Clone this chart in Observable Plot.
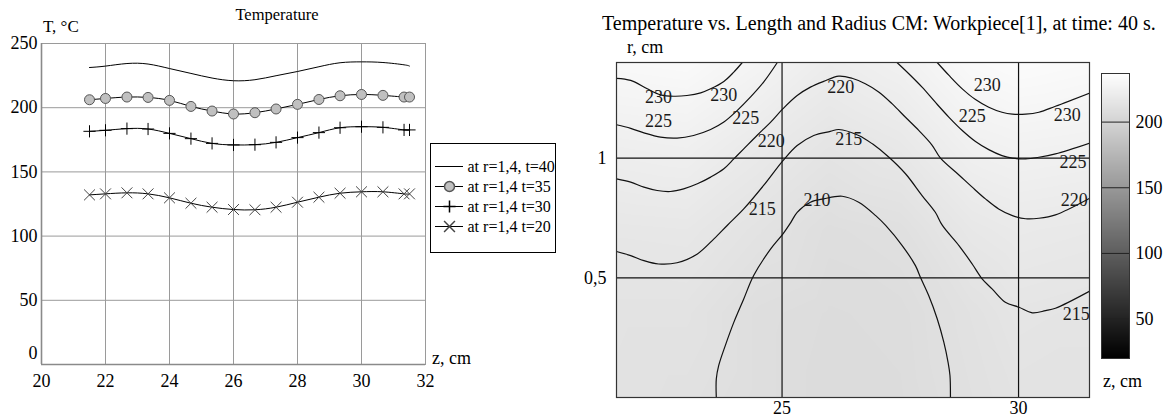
<!DOCTYPE html>
<html><head><meta charset="utf-8">
<script src="https://cdn.jsdelivr.net/npm/d3@7"></script>
<script src="https://cdn.jsdelivr.net/npm/@observablehq/plot@0.6"></script>
<style>
body{margin:0;background:#fff;}
#wrap{position:relative;width:1171px;height:419px;overflow:hidden;font-family:"Liberation Serif","Times New Roman",serif;color:#000;background:#fff;}
.abs{position:absolute;white-space:nowrap;line-height:1;}
.abs svg{display:block;overflow:visible;}
#wrap svg, #wrap svg text, #wrap svg tspan{font-family:"Liberation Serif","Times New Roman",serif !important;}
</style></head><body><div id="wrap"></div>
<script>
// ---------- Left chart data ----------
const zLeft = [21.5, 22, 22.67, 23.33, 24, 24.67, 25.33, 26, 26.67, 27.33, 28, 28.67, 29.33, 30, 30.67, 31.33, 31.5];
const t40 = [231.3, 232.4, 234.4, 234.0, 230.5, 226.7, 223.1, 221.0, 221.8, 224.9, 228.2, 231.9, 235.0, 235.7, 235.2, 233.4, 232.4];
const t35 = [206.2, 207.2, 208.3, 208.0, 205.7, 201.0, 197.4, 195.1, 196.1, 199.0, 202.6, 206.4, 209.3, 210.3, 209.6, 208.3, 208.3];
const t30 = [181.6, 182.4, 183.7, 183.4, 180.0, 175.9, 172.2, 171.0, 171.2, 173.0, 176.7, 180.6, 184.4, 185.2, 184.7, 182.7, 182.7];
const t20 = [132.1, 132.9, 133.7, 132.9, 129.8, 125.6, 122.5, 120.7, 120.5, 122.5, 126.4, 130.3, 133.4, 134.5, 134.5, 132.9, 132.9];
const seriesNames = ["at r=1,4, t=40", "at r=1,4 t=35", "at r=1,4 t=30", "at r=1,4 t=20"];
const xTicksLeft = [20, 22, 24, 26, 28, 30, 32];
const yTicksLeft = [0, 50, 100, 150, 200, 250];

// ---------- Right chart data (contour lines: [z, r]) ----------
const c230L = [[21.5,1.334],[21.80,1.325],[22.15,1.290],[22.43,1.265],[22.71,1.259],[22.99,1.262],[23.28,1.273],[23.49,1.290],[23.77,1.321],[23.98,1.360],[24.16,1.40]];
const c225L = [[21.5,1.140],[21.80,1.125],[22.08,1.106],[22.43,1.088],[22.78,1.084],[23.13,1.095],[23.49,1.120],[23.77,1.151],[24.05,1.199],[24.33,1.255],[24.61,1.318],[24.90,1.40]];
const c230R = [[28.28,1.40],[28.53,1.346],[28.81,1.290],[29.09,1.245],[29.37,1.213],[29.65,1.192],[29.87,1.184],[30.15,1.184],[30.43,1.192],[30.78,1.217],[31.5,1.272]];
const c225R = [[27.43,1.40],[27.68,1.353],[27.96,1.297],[28.24,1.234],[28.53,1.171],[28.81,1.116],[29.09,1.070],[29.37,1.036],[29.65,1.011],[29.87,1.000],[30.15,0.997],[30.43,1.004],[30.78,1.018],[31.5,1.063]];
const c220 = [[21.5,0.914],[21.80,0.900],[22.08,0.879],[22.36,0.865],[22.64,0.861],[22.92,0.872],[23.21,0.893],[23.49,0.921],[23.77,0.956],[23.98,0.997],[24.19,1.039],[24.47,1.095],[24.76,1.151],[25.02,1.207],[25.32,1.262],[25.60,1.297],[25.88,1.321],[26.20,1.343],[26.48,1.334],[26.76,1.311],[27.05,1.276],[27.33,1.227],[27.61,1.171],[27.89,1.116],[28.17,1.055],[28.35,1.000],[28.74,0.930],[29.02,0.879],[29.30,0.830],[29.58,0.788],[29.87,0.760],[30.15,0.747],[30.43,0.749],[30.78,0.763],[31.5,0.832]];
const c215 = [[21.5,0.610],[21.80,0.593],[22.08,0.572],[22.39,0.558],[22.78,0.563],[23.21,0.600],[23.56,0.663],[23.84,0.719],[24.19,0.788],[24.61,0.886],[25.02,0.990],[25.32,1.053],[25.67,1.095],[26.02,1.112],[26.20,1.120],[26.62,1.095],[26.91,1.060],[27.26,1.004],[27.61,0.935],[27.96,0.844],[28.24,0.774],[28.39,0.719],[28.74,0.635],[29.02,0.558],[29.23,0.496],[29.44,0.454],[29.72,0.398],[30.01,0.377],[30.29,0.354],[30.57,0.363],[30.78,0.373],[31.5,0.444]];
const c210 = [[23.61,0],[23.61,0.078],[23.66,0.133],[23.80,0.217],[23.98,0.314],[24.19,0.412],[24.40,0.510],[24.76,0.621],[25.02,0.684],[25.18,0.730],[25.32,0.774],[25.60,0.816],[25.88,0.830],[26.27,0.841],[26.62,0.816],[26.98,0.760],[27.19,0.719],[27.54,0.635],[27.82,0.551],[27.93,0.500],[28.10,0.426],[28.28,0.329],[28.42,0.231],[28.51,0.147],[28.55,0.092],[28.56,0]];
const labelZ = [22.39, 23.77, 22.39, 24.23, 24.77, 24.58, 25.74, 26.24, 26.41, 29.34, 29.02, 31.03, 31.15, 31.18, 31.22];
const labelR = [1.255, 1.265, 1.153, 1.165, 1.070, 0.788, 0.823, 1.297, 1.081, 1.304, 1.176, 1.179, 0.983, 0.826, 0.349];
const labelText = ["230", "230", "225", "225", "220", "215", "210", "220", "215", "230", "225", "230", "225", "220", "215"];
// coarse temperature field estimated from the contours (for the grey shading)
const gridZ = [21.5, 23, 24.5, 26, 27.5, 29, 30, 31.5];
const gridR = [0, 0.35, 0.7, 1.05, 1.4];
const gridT = [
  [212.5, 211.5, 209, 207, 207.5, 211, 213, 213],
  [213, 213, 209, 207.5, 208, 212, 215, 214],
  [216.5, 217, 213, 209, 210.5, 217, 219, 218],
  [223, 224, 219, 214.5, 217.5, 224.5, 226, 225],
  [231.5, 232.5, 227.5, 221.5, 225, 232, 234, 232.5]
];
const zTicksRight = [25, 30];
const rTicksRight = [0.5, 1];
const barTicks = [50, 100, 150, 200];
const barDomain = [20, 237];

// ---------- helpers ----------
const wrap = document.getElementById("wrap");
function place(node, left, top) {
  const d = document.createElement("div");
  d.className = "abs"; d.style.left = left + "px"; d.style.top = top + "px";
  d.appendChild(node); wrap.appendChild(d); return d;
}
function label(text, left, top, size, center) {
  const d = document.createElement("div");
  d.className = "abs"; d.textContent = text;
  d.style.left = left + "px"; d.style.top = top + "px"; d.style.fontSize = size + "px";
  if (center) d.style.transform = "translateX(-50%)";
  wrap.appendChild(d); return d;
}
const baseStyle = "font-family:'Liberation Serif','Times New Roman',serif;font-size:18px;background:none;color:#000;overflow:visible;";

// ---------- Left chart ----------
const rowsOf = (vals) => vals.map((v, i) => ({z: zLeft[i], T: v}));
const r40 = rowsOf(t40), r35 = rowsOf(t35), r30 = rowsOf(t30), r20 = rowsOf(t20);
const left = Plot.plot({
  width: 430, height: 400, marginLeft: 41, marginRight: 5, marginTop: 43, marginBottom: 36,
  style: baseStyle,
  x: {domain: [20, 32]}, y: {domain: [0, 250]},
  marks: [
    Plot.gridX(xTicksLeft, {stroke: "#9a9a9a", strokeOpacity: 1}),
    Plot.gridY(yTicksLeft, {stroke: "#9a9a9a", strokeOpacity: 1}),
    Plot.frame({stroke: "#9a9a9a"}),
    Plot.ruleX([20], {stroke: "#8a8a8a", strokeWidth: 1.6}),
    Plot.ruleY([0], {stroke: "#8a8a8a", strokeWidth: 1.6}),
    Plot.axisX(xTicksLeft, {tickSize: 0, tickPadding: 10, label: null}),
    Plot.axisY(yTicksLeft.filter(d => d > 0), {tickSize: 0, tickPadding: 4, label: null}),
    Plot.axisY([0], {tickSize: 0, tickPadding: 4, label: null, dy: -11}),
    Plot.line(r40, {x: "z", y: "T", curve: "natural", stroke: "#000", strokeWidth: 1}),
    Plot.line(r35, {x: "z", y: "T", curve: "natural", stroke: "#000", strokeWidth: 1}),
    Plot.line(r30, {x: "z", y: "T", curve: "natural", stroke: "#000", strokeWidth: 1}),
    Plot.line(r20, {x: "z", y: "T", curve: "natural", stroke: "#000", strokeWidth: 1}),
    Plot.dot(r35, {x: "z", y: "T", r: 5, fill: "#c0c0c0", stroke: "#555", strokeWidth: 1}),
    Plot.dot(r30, {x: "z", y: "T", symbol: "plus", r: 4, stroke: "#000", strokeWidth: 1}),
    Plot.dot(r20, {x: "z", y: "T", symbol: "times", r: 5, stroke: "#444", strokeWidth: 1})
  ]
});
place(left, 0, 0);
label("Temperature", 277, 7, 16.5, true);
label("T, °C", 43, 18, 17, false);
label("z, cm", 432, 349, 18, false);

// ---------- Legend ----------
const legend = Plot.plot({
  width: 124, height: 108, margin: 0,
  style: baseStyle + "font-size:16px;",
  x: {domain: [0, 124], range: [0, 124], axis: null},
  y: {type: "point", domain: seriesNames, range: [11, 92], axis: null},
  marks: [
    Plot.ruleY(seriesNames, {y: d => d, x1: 4, x2: 32, stroke: "#000"}),
    Plot.dot([seriesNames[1]], {x: 18, y: d => d, r: 5, fill: "#c0c0c0", stroke: "#555"}),
    Plot.dot([seriesNames[2]], {x: 18, y: d => d, symbol: "plus", r: 4, stroke: "#000"}),
    Plot.dot([seriesNames[3]], {x: 18, y: d => d, symbol: "times", r: 5, stroke: "#444"}),
    Plot.text(seriesNames, {x: 36, y: d => d, text: d => d, textAnchor: "start", fontSize: 16})
  ]
});
const lg = place(legend, 430, 143);
lg.style.border = "1px solid #000";

// ---------- Right contour chart ----------
const colorScale = {type: "linear", domain: barDomain, range: ["#000", "#fff"]};
const gridRows = [];
gridR.forEach((r, j) => gridZ.forEach((z, i) => gridRows.push({z, r, T: gridT[j][i]})));
const contours = [c230L, c225L, c230R, c225R, c220, c215, c210];
const labels = labelText.map((t, i) => ({z: labelZ[i], r: labelR[i], t}));
const right = Plot.plot({
  width: 540, height: 419, marginLeft: 56, marginRight: 11, marginTop: 62, marginBottom: 22,
  style: baseStyle,
  x: {domain: [21.5, 31.5]}, y: {domain: [0, 1.4]},
  color: colorScale,
  marks: [
    Plot.raster(gridRows, {x: "z", y: "r", fill: "T", interpolate: "barycentric", x1: 21.5, x2: 31.5, y1: 0, y2: 1.4, pixelSize: 1}),
    Plot.ruleX(zTicksRight, {stroke: "#111", strokeWidth: 1.2}),
    Plot.ruleY(rTicksRight, {stroke: "#111", strokeWidth: 1.2}),
    ...contours.map(c => Plot.line(c, {x: d => d[0], y: d => d[1], curve: "catmull-rom", stroke: "#111", strokeWidth: 1.2, clip: true})),
    Plot.text(labels, {x: "z", y: "r", text: "t", fontSize: 18, fill: "#1a1a1a"}),
    Plot.frame({stroke: "#333", strokeWidth: 1.2}),
    Plot.axisX(zTicksRight, {tickSize: 0, tickPadding: 4, label: null}),
    Plot.axisY(rTicksRight, {tickSize: 0, tickPadding: 10, label: null, tickFormat: d => String(d).replace(".", ",")})
  ]
});
place(right, 560, 0);
label("Temperature vs. Length and Radius CM: Workpiece[1], at time: 40 s.", 602, 13, 20, false);
label("r, cm", 627, 38, 18, false);
label("z, cm", 1103, 372, 18, false);

// ---------- Colour bar ----------
const bar = Plot.plot({
  width: 91, height: 419, marginLeft: 21, marginRight: 42, marginTop: 73, marginBottom: 61,
  style: baseStyle,
  x: {domain: [0, 1], axis: null}, y: {domain: barDomain, axis: null},
  color: colorScale,
  marks: [
    Plot.raster({fill: (x, y) => y, x1: 0, x2: 1, y1: barDomain[0], y2: barDomain[1], pixelSize: 1}),
    Plot.ruleY(barTicks, {stroke: "#222"}),
    Plot.frame({stroke: "#333"}),
    Plot.axisY(barTicks, {anchor: "right", tickSize: 0, tickPadding: 6, label: null})
  ]
});
place(bar, 1080, 0);
</script>
</body></html>
